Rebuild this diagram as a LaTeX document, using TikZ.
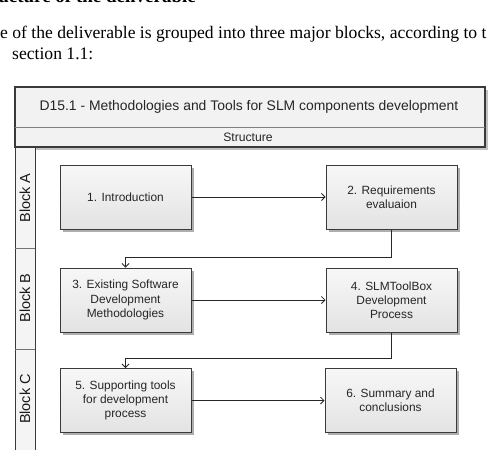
\documentclass[tikz,border=0pt]{standalone}
\usepackage{fontspec}
\setmainfont{Liberation Serif}
\newfontfamily\arialf{Liberation Sans}
\usetikzlibrary{shadows,arrows.meta}
\definecolor{frameC}{HTML}{3A3A3A}
\definecolor{hdrfill}{HTML}{F2F2F2}
\definecolor{lanefill}{HTML}{F4F4F4}
\tikzset{
  pagetext/.style={inner sep=0pt, font=\fontsize{17.6}{21}\selectfont},
  stepbox/.style={draw=frameC, line width=1pt, minimum width=131pt, minimum height=64pt,
    inner sep=2pt, align=center, top color=white!97!black, bottom color=white!89!black,
    font=\arialf\fontsize{11.9}{14.2}\selectfont, text=black!85,
    drop shadow={shadow xshift=2.5pt, shadow yshift=-2.5pt, fill=black!45, opacity=0.7}},
  flow/.style={draw=black!85, line width=0.9pt, -{Straight Barb[length=3.5pt,width=7pt,line width=0.8pt]}},
  lanelabel/.style={rotate=90, inner sep=0pt, font=\arialf\fontsize{14.5}{16}\selectfont, text=black!90},
}
\begin{document}
\begin{tikzpicture}[x=1pt,y=-1pt]
\useasboundingbox (0,0) rectangle (493,450);
\clip (0,0) rectangle (493,450);
% page text
\node[pagetext, anchor=base east, font=\bfseries\fontsize{19}{22}\selectfont] (h) at (196,2.5) {Structure of the deliverable};
\node[pagetext, anchor=base west] (l1) at (0,38) {e of the deliverable is grouped into three major blocks, according to t};
\node[pagetext, anchor=base west] (l2) at (12,59) {section 1.1:};
% header
\fill[black!40, opacity=0.6] (17.5,89.5) rectangle (487.5,149.5);
\draw[frameC, line width=1.2pt, fill=hdrfill] (15,87) rectangle (485,147);
\draw[black!50, line width=0.8pt] (15,127) -- (485,127);
\draw[frameC, line width=1.5pt] (15,147) -- (485,147);
\node[font=\arialf\fontsize{13.9}{16}\selectfont, text=black!85] (title) at (249,107) {D15.1 - Methodologies and Tools for SLM components development};
\node[font=\arialf\fontsize{12.2}{14}\selectfont, text=black!85] (struct) at (248,137.5) {Structure};
% lanes
\draw[frameC, line width=1pt, fill=lanefill] (15,147) rectangle (35,470);
\draw[black!55, line width=0.8pt] (15,248) -- (35,248);
\draw[black!55, line width=0.8pt] (15,349) -- (35,349);
\node[lanelabel] (la) at (25,198) {Block A};
\node[lanelabel] (lb) at (25,298) {Block B};
\node[lanelabel] (lc) at (25,399) {Block C};
% boxes
\node[stepbox] (b1) at (125.5,197) {1. Introduction};
\node[stepbox] (b2) at (391.5,197) {2. Requirements\\evaluaion};
\node[stepbox] (b3) at (125.5,300) {3. Existing Software\\Development\\Methodologies};
\node[stepbox] (b4) at (391.5,300) {4. SLMToolBox\\Development\\Process};
\node[stepbox] (b5) at (125.5,400.5) {5. Supporting tools\\for development\\process};
\node[stepbox] (b6) at (390.5,400.5) {6. Summary and\\conclusions};
% connectors
\draw[flow] (b1) -- (b2);
\draw[flow] (b2.south) -- ++(0,27.5) -| (b3.north);
\draw[flow] (b3) -- (b4);
\draw[flow] (b4.south) -- ++(0,26) -| (b5.north);
\draw[flow] (b5) -- (b6);
\end{tikzpicture}
\end{document}
